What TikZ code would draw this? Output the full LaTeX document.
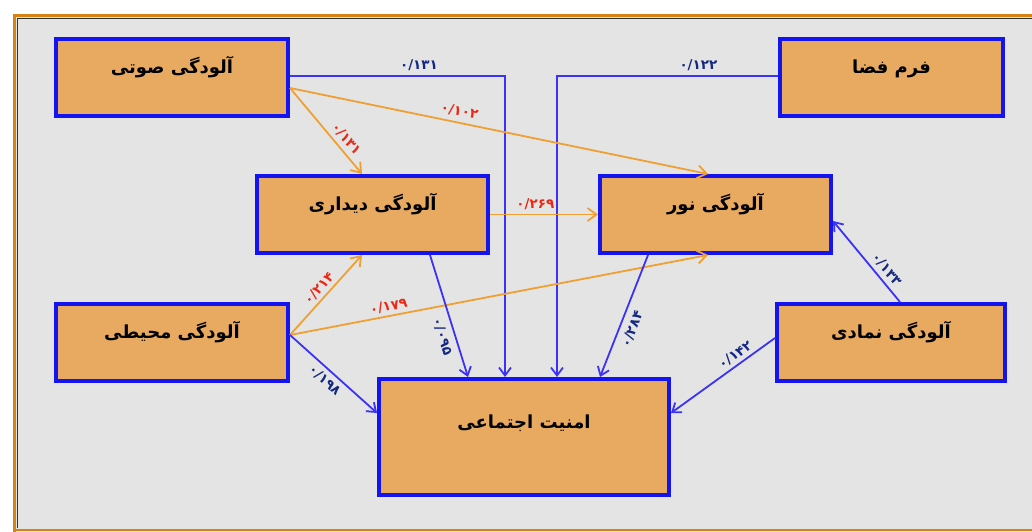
\documentclass[tikz,border=0pt]{standalone}
\usepackage{fontspec}
\usetikzlibrary{arrows.meta,calc}
\TeXXeTstate=1
\newfontfamily\fa[Script=Arabic]{DejaVu Sans}
\definecolor{boxfill}{RGB}{232,170,96}
\definecolor{boxline}{RGB}{20,20,240}
\definecolor{bluearr}{RGB}{60,50,245}
\definecolor{orangearr}{RGB}{240,160,50}
\definecolor{redlab}{RGB}{235,40,20}
\definecolor{navylab}{RGB}{20,40,130}
\definecolor{bggray}{RGB}{228,228,228}
\definecolor{frameorange}{RGB}{215,130,20}
\begin{document}
\begin{tikzpicture}[x=1pt,y=-1pt,
  box/.style={draw=boxline, fill=boxfill, line width=4pt, minimum height=77pt,
    inner sep=0pt, text height=13pt, text depth=21pt,
    font=\fa\bfseries\fontsize{18}{18}\selectfont},
  barrow/.style={draw=bluearr, line width=1.8pt, -{Straight Barb[length=8pt,width=12pt]}},
  oarrow/.style={draw=orangearr, line width=1.8pt, -{Straight Barb[length=9pt,width=13pt]}},
  rlab/.style={text=redlab, inner sep=1pt, font=\fa\bfseries\fontsize{13.5}{13.5}\selectfont},
  blab/.style={text=navylab, inner sep=1pt, font=\fa\bfseries\fontsize{13.5}{13.5}\selectfont}]
\useasboundingbox (0,0) rectangle (1032,531);
\fill[white] (0,0) rectangle (1032,531);
\fill[bggray] (14,15) rectangle (1040,540);
\draw[frameorange, line width=3pt] (1040,15) -- (14,15) -- (14,540);
\draw[frameorange, line width=2pt] (14,530) -- (1040,530);
\draw[black!80, line width=1.5pt] (1040,18.5) -- (17.5,18.5) -- (17.5,528);

\node[box, minimum width=232pt] (A) at (172,77.5) {\beginR آلودگی صوتی\endR};
\node[box, minimum width=223pt] (B) at (891.5,77.5) {\beginR فرم فضا\endR};
\node[box, minimum width=231pt] (C) at (372.5,214.5) {\beginR آلودگی دیداری\endR};
\node[box, minimum width=231pt] (D) at (715.5,214.5) {\beginR آلودگی نور\endR};
\node[box, minimum width=232pt] (E) at (172,342.5) {\beginR آلودگی محیطی\endR};
\node[box, minimum width=228pt] (F) at (891,342.5) {\beginR آلودگی نمادی\endR};
\node[box, minimum width=290pt, minimum height=116pt, text depth=30pt] (G) at (524,437) {\beginR امنیت اجتماعی\endR};

\coordinate (aO) at ($(A.east)+(0,10.5)$);
\coordinate (eO) at ($(E.east)+(0,-7.5)$);

% blue elbow connectors
\draw[barrow] ($(A.east)+(0,-1.5)$) -| node[blab, pos=0.30, above=3pt] {۰/۱۳۱} ($(G.north west)+(128,0)$);
\draw[barrow] ($(B.west)+(0,-1.5)$) -| node[blab, pos=0.18, above=3pt] {۰/۱۲۲} ($(G.north west)+(180,0)$);

% orange connectors
\draw[oarrow] (aO) -- node[rlab, pos=0.67, sloped, above=3pt] {۰/۱۳۱} ($(C.north west)+(107,0)$);
\draw[oarrow] (aO) -- node[rlab, pos=0.40, sloped, above=4pt] {۰/۱۰۲} ($(D.north west)+(110,0)$);
\draw[oarrow] (C.east) -- node[rlab, pos=0.42, above=3pt] {۰/۲۶۹} (D.west);
\draw[oarrow] (eO) -- node[rlab, pos=0.50, sloped, above=2pt] {۰/۲۱۴} ($(C.south west)+(107,0)$);
\draw[oarrow] (eO) -- node[rlab, pos=0.24, sloped, above=2pt] {۰/۱۷۹} ($(D.south west)+(110,0)$);

% blue straight connectors
\draw[barrow] (eO) -- node[blab, pos=0.48, sloped, below=3pt] {۰/۱۹۸} ($(G.north west)+(0,36)$);
\draw[barrow] ($(C.south west)+(175,0)$) -- node[blab, pos=0.64, sloped, below=5pt] {۰/۰۹۵} ($(G.north west)+(91,0)$);
\draw[barrow] ($(D.south west)+(50,0)$) -- node[blab, pos=0.57, sloped, below=5pt] {۰/۲۸۴} ($(G.north west)+(223,0)$);
\draw[barrow] ($(F.west)+(0,-4.5)$) -- node[blab, pos=0.33, sloped, above=2pt] {۰/۱۴۲} ($(G.north east)+(0,36)$);
\draw[barrow] ($(F.north west)+(125,0)$) -- node[blab, pos=0.32, sloped, above=3pt] {۰/۱۳۳} ($(D.east)+(0,6.5)$);
\end{tikzpicture}
\end{document}
